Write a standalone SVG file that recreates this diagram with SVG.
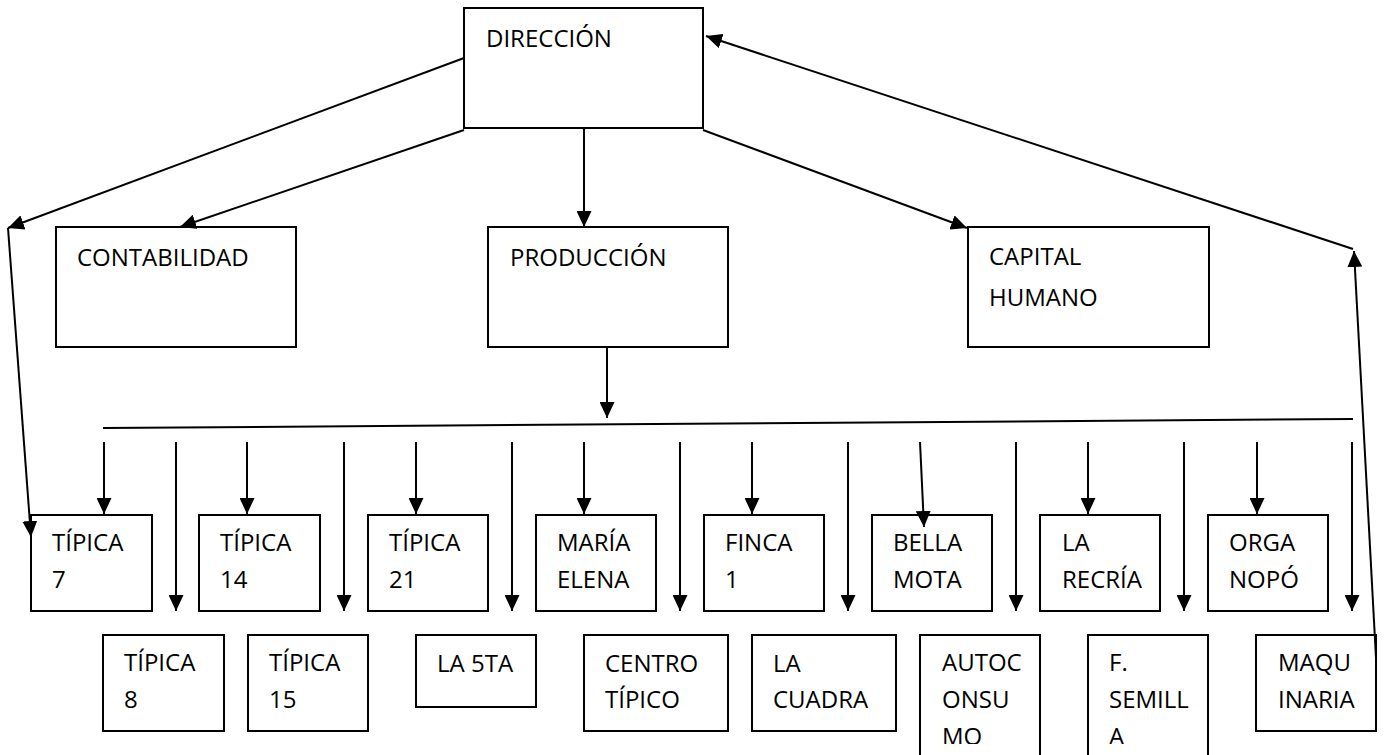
<svg xmlns="http://www.w3.org/2000/svg" width="1389" height="755" viewBox="0 0 1389 755">
<style>
.box{fill:#fff;stroke:#000;stroke-width:2}
.t{font-family:"Open Sans","Liberation Sans",sans-serif;font-size:24px;fill:#000}
.c{fill:none;stroke:#000;stroke-width:2}
</style>
<defs>
<marker id="ah" markerUnits="userSpaceOnUse" markerWidth="16" markerHeight="15" refX="16" refY="7.5" orient="auto">
<path d="M0,0 L16,7.5 L0,15 z" fill="#000"/>
</marker>
<clipPath id="clipBottom"><rect x="0" y="0" width="1389" height="744"/></clipPath>
</defs>
<rect width="1389" height="755" fill="#fff"/>
<g id="n-direccion"><rect class="box" x="464" y="8" width="239" height="120"/><text class="t" x="486" y="47">DIRECCIÓN</text></g>
<g id="n-contabilidad"><rect class="box" x="56" y="227" width="240" height="120"/><text class="t" x="77" y="266">CONTABILIDAD</text></g>
<g id="n-produccion"><rect class="box" x="488" y="227" width="240" height="120"/><text class="t" x="510" y="266">PRODUCCIÓN</text></g>
<g id="n-capital"><rect class="box" x="968" y="227" width="241" height="120"/><text class="t" x="989" y="265">CAPITAL</text><text class="t" x="989" y="306">HUMANO</text></g>
<g id="n-tipica7"><rect class="box" x="31" y="515" width="121" height="96"/><text class="t" x="52" y="551">TÍPICA</text><text class="t" x="52" y="588">7</text></g>
<g id="n-tipica14"><rect class="box" x="199" y="515" width="121" height="96"/><text class="t" x="220" y="551">TÍPICA</text><text class="t" x="220" y="588">14</text></g>
<g id="n-tipica21"><rect class="box" x="368" y="515" width="120" height="96"/><text class="t" x="389" y="551">TÍPICA</text><text class="t" x="389" y="588">21</text></g>
<g id="n-mariaelena"><rect class="box" x="536" y="515" width="120" height="96"/><text class="t" x="557" y="551">MARÍA</text><text class="t" x="557" y="588">ELENA</text></g>
<g id="n-finca1"><rect class="box" x="704" y="515" width="120" height="96"/><text class="t" x="725" y="551">FINCA</text><text class="t" x="725" y="588">1</text></g>
<g id="n-bellamota"><rect class="box" x="872" y="515" width="120" height="96"/><text class="t" x="893" y="551">BELLA</text><text class="t" x="893" y="588">MOTA</text></g>
<g id="n-larecria"><rect class="box" x="1040" y="515" width="120" height="96"/><text class="t" x="1062" y="551">LA</text><text class="t" x="1062" y="588">RECRÍA</text></g>
<g id="n-organopo"><rect class="box" x="1208" y="515" width="120" height="96"/><text class="t" x="1229" y="551">ORGA</text><text class="t" x="1229" y="588">NOPÓ</text></g>
<g id="n-tipica8"><rect class="box" x="103" y="635" width="121" height="96"/><text class="t" x="124" y="671">TÍPICA</text><text class="t" x="124" y="708">8</text></g>
<g id="n-tipica15"><rect class="box" x="248" y="635" width="120" height="96"/><text class="t" x="269" y="671">TÍPICA</text><text class="t" x="269" y="708">15</text></g>
<g id="n-la5ta"><rect class="box" x="416" y="635" width="120" height="72"/><text class="t" x="437" y="672">LA 5TA</text></g>
<g id="n-centrotipico"><rect class="box" x="584" y="635" width="144" height="96"/><text class="t" x="605" y="672">CENTRO</text><text class="t" x="605" y="708">TÍPICO</text></g>
<g id="n-lacuadra"><rect class="box" x="752" y="635" width="144" height="96"/><text class="t" x="773" y="672">LA</text><text class="t" x="773" y="708">CUADRA</text></g>
<g id="n-autoconsumo"><rect class="box" x="920" y="635" width="120" height="130"/><g clip-path="url(#clipBottom)"><text class="t" x="942" y="671">AUTOC</text><text class="t" x="942" y="708">ONSU</text><text class="t" x="942" y="745">MO</text></g></g>
<g id="n-fsemilla"><rect class="box" x="1088" y="635" width="120" height="130"/><g clip-path="url(#clipBottom)"><text class="t" x="1109" y="671">F.</text><text class="t" x="1109" y="708">SEMILL</text><text class="t" x="1109" y="745">A</text></g></g>
<g id="n-maquinaria"><rect class="box" x="1256" y="635" width="120" height="96"/><text class="t" x="1278" y="671">MAQU</text><text class="t" x="1278" y="708">INARIA</text></g>
<g id="connectors">
<line class="c" x1="464" y1="58" x2="8" y2="228" marker-end="url(#ah)"/>
<line class="c" x1="8" y1="228" x2="31" y2="537" marker-end="url(#ah)"/>
<line class="c" x1="464" y1="130" x2="180" y2="227" marker-end="url(#ah)"/>
<line class="c" x1="584" y1="128" x2="584" y2="227" marker-end="url(#ah)"/>
<line class="c" x1="703" y1="130" x2="967" y2="228" marker-end="url(#ah)"/>
<line class="c" x1="1353" y1="249" x2="706" y2="36" marker-end="url(#ah)"/>
<line class="c" x1="1376" y1="658" x2="1354" y2="251" marker-end="url(#ah)"/>
<line class="c" x1="607" y1="347" x2="607" y2="418" marker-end="url(#ah)"/>
<line class="c" x1="103" y1="428" x2="1353" y2="419"/>
<line class="c" x1="104" y1="442" x2="104" y2="514" marker-end="url(#ah)"/>
<line class="c" x1="247" y1="442" x2="247" y2="514" marker-end="url(#ah)"/>
<line class="c" x1="416" y1="442" x2="416" y2="514" marker-end="url(#ah)"/>
<line class="c" x1="584" y1="442" x2="584" y2="514" marker-end="url(#ah)"/>
<line class="c" x1="752" y1="442" x2="752" y2="514" marker-end="url(#ah)"/>
<line class="c" x1="920" y1="442" x2="924" y2="527" marker-end="url(#ah)"/>
<line class="c" x1="1088" y1="442" x2="1088" y2="514" marker-end="url(#ah)"/>
<line class="c" x1="1257" y1="442" x2="1257" y2="514" marker-end="url(#ah)"/>
<line class="c" x1="176" y1="442" x2="176" y2="611" marker-end="url(#ah)"/>
<line class="c" x1="344" y1="442" x2="344" y2="611" marker-end="url(#ah)"/>
<line class="c" x1="512" y1="442" x2="512" y2="611" marker-end="url(#ah)"/>
<line class="c" x1="680" y1="442" x2="680" y2="611" marker-end="url(#ah)"/>
<line class="c" x1="848" y1="442" x2="848" y2="611" marker-end="url(#ah)"/>
<line class="c" x1="1016" y1="442" x2="1016" y2="611" marker-end="url(#ah)"/>
<line class="c" x1="1184" y1="442" x2="1184" y2="611" marker-end="url(#ah)"/>
<line class="c" x1="1352" y1="442" x2="1352" y2="611" marker-end="url(#ah)"/>
</g>
</svg>
